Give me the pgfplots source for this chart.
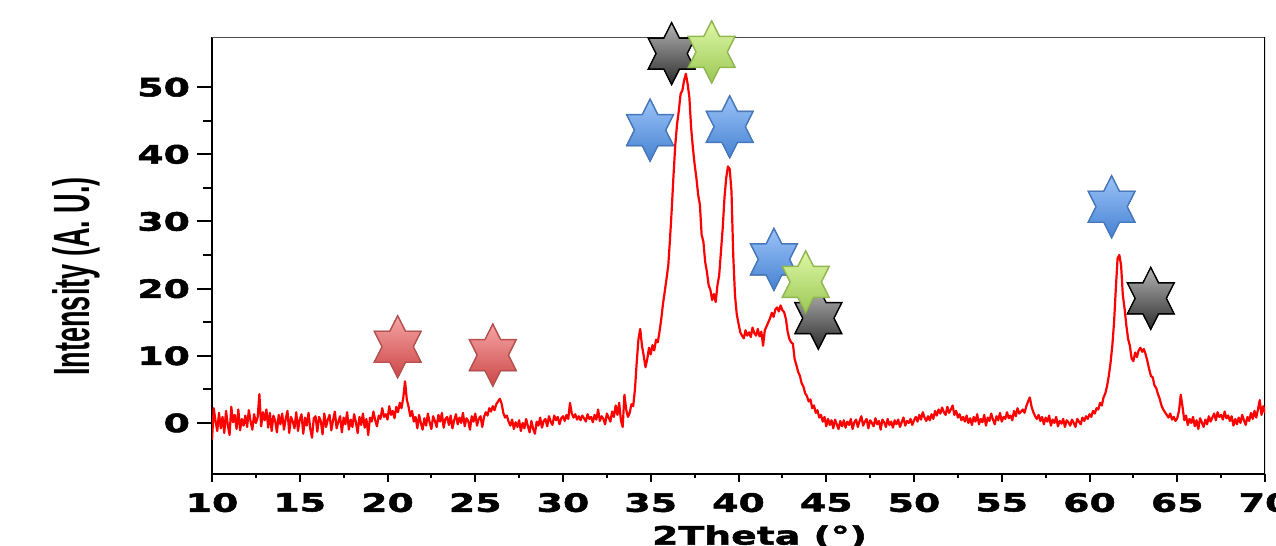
\documentclass[border=0pt]{standalone}
\usepackage{pgfplots}
\pgfplotsset{compat=1.18}
\usepackage{fontspec}
\setmainfont{Liberation Sans}
\newfontfamily\tickfont{DejaVu Sans Bold}[FakeStretch=1.5,FakeBold=2]
\newfontfamily\labfont{Liberation Sans Bold}[FakeStretch=0.53]
\definecolor{redtop}{RGB}{245,165,165}
\definecolor{redbot}{RGB}{205,70,70}
\definecolor{redline}{RGB}{185,80,80}
\definecolor{bluetop}{RGB}{155,195,248}
\definecolor{bluebot}{RGB}{70,130,210}
\definecolor{blueline}{RGB}{70,120,190}
\definecolor{greentop}{RGB}{222,247,165}
\definecolor{greenbot}{RGB}{155,200,85}
\definecolor{greenline}{RGB}{145,185,80}
\definecolor{blacktop}{RGB}{180,180,180}
\definecolor{blackbot}{RGB}{45,45,45}
\newcommand\hexstar[1]{\path[#1] (0pt,15.5pt) -- (3.9pt,7.75pt) -- (11.7pt,7.75pt) -- (7.8pt,0pt) -- (11.7pt,-7.75pt) -- (3.9pt,-7.75pt) -- (0pt,-15.5pt) -- (-3.9pt,-7.75pt) -- (-11.7pt,-7.75pt) -- (-7.8pt,0pt) -- (-11.7pt,7.75pt) -- (-3.9pt,7.75pt) -- cycle;}
\newcommand\hexmark[3]{\hexstar{fill=black,fill opacity=0.15,xshift=0.8pt,yshift=-1.5pt}\hexstar{top color=#1,bottom color=#2,draw=#3,line width=0.7pt,line join=miter}}
\pgfdeclareplotmark{hexred}{\hexmark{redtop}{redbot}{redline}}
\pgfdeclareplotmark{hexblue}{\hexmark{bluetop}{bluebot}{blueline}}
\pgfdeclareplotmark{hexgreen}{\hexmark{greentop}{greenbot}{greenline}}
\pgfdeclareplotmark{hexblack}{\hexmark{blacktop}{blackbot}{black}}
\begin{document}
\begin{tikzpicture}
\begin{axis}[
  name=ax, scale only axis, width=526.5pt, height=218.25pt,
  xmin=10, xmax=70, ymin=-7.6, ymax=57.4,
  axis x line=bottom, axis y line=left,
  axis line style={-, line width=1pt, black},
  xtick={10,15,...,70}, ytick={0,10,...,50},
  minor x tick num=1, minor y tick num=1,
  tick align=outside, tick style={black, line width=1pt},
  major tick length=7.5pt, minor tick length=4.5pt,
  xtick style={/pgfplots/major tick length=3.8pt, /pgfplots/minor tick length=2pt},
  /pgf/number format/assume math mode=true,
  ticklabel style={font=\tickfont\fontsize{12.6}{14}\selectfont},
  xticklabel style={yshift=1.5pt},
  xlabel={2Theta (°)}, ylabel={Intensity (A. U.)},
  xlabel style={font=\tickfont\fontsize{12.6}{14}\selectfont, at={(rel axis cs:0.52,0)}, anchor=north, inner sep=0pt, yshift=-25.5pt},
  ylabel style={font=\labfont\fontsize{25.5}{28}\selectfont, at={(rel axis cs:-0.129,0.4525)}, anchor=center},
]
\draw[gray!60!black, line width=0.5pt] (rel axis cs:0,1) -- (rel axis cs:1,1);
\draw[black, line width=1.3pt] (rel axis cs:1,0) -- (rel axis cs:1,1);
\addplot[red, line width=1.1pt, line join=round] coordinates {
(10.0,-2.5)(10.1,2.2)(10.2,0.3)(10.3,-1.2)(10.4,1.5)(10.5,-0.8)(10.6,0.9)(10.7,-1.5)(10.8,1.8)(10.9,-0.3)
(11.0,-1.8)(11.1,2.4)(11.2,0.1)(11.3,1.2)(11.4,-0.9)(11.5,2.0)(11.6,-1.1)(11.7,0.6)(11.8,-0.4)(11.9,1.1)
(12.0,-0.6)(12.1,1.9)(12.2,0.2)(12.3,-1.0)(12.4,1.3)(12.5,0.0)(12.6,0.8)(12.7,4.3)(12.8,-0.5)(12.9,1.6)
(13.0,0.4)(13.1,2.0)(13.2,-0.7)(13.3,1.5)(13.4,-1.2)(13.5,1.1)(13.6,0.3)(13.7,-1.4)(13.8,1.2)(13.9,-0.2)
(14.0,1.4)(14.1,-1.0)(14.2,0.6)(14.3,1.8)(14.4,-1.5)(14.5,0.9)(14.6,0.2)(14.7,-0.8)(14.8,1.6)(14.9,-1.2)
(15.0,0.5)(15.1,1.3)(15.2,-1.6)(15.3,0.8)(15.4,-0.4)(15.5,1.5)(15.6,-0.9)(15.7,-2.2)(15.8,0.7)(15.9,1.0)
(16.0,-1.3)(16.1,0.9)(16.2,0.3)(16.3,-1.7)(16.4,1.4)(16.5,-0.6)(16.6,0.5)(16.7,1.2)(16.8,-1.1)(16.9,0.4)
(17.0,1.7)(17.1,-0.8)(17.2,0.2)(17.3,1.0)(17.4,-1.4)(17.5,0.8)(17.6,-0.2)(17.7,1.6)(17.8,-1.0)(17.9,0.5)
(18.0,-0.6)(18.1,1.3)(18.2,0.1)(18.3,-1.5)(18.4,0.9)(18.5,-0.3)(18.6,1.4)(18.7,-0.7)(18.8,0.6)(18.9,-1.8)
(19.0,0.8)(19.1,0.2)(19.2,1.7)(19.3,0.4)(19.4,-0.5)(19.5,1.1)(19.6,0.6)(19.7,2.2)(19.8,0.9)(19.9,1.3)
(20.0,0.5)(20.1,2.5)(20.2,1.2)(20.3,1.8)(20.4,0.7)(20.5,2.4)(20.6,1.6)(20.7,3.0)(20.8,2.2)(20.9,3.8)
(21.0,6.2)(21.1,3.5)(21.2,2.4)(21.3,1.0)(21.4,1.8)(21.5,0.2)(21.6,0.9)(21.7,-0.8)(21.8,1.2)(21.9,0.0)
(22.0,-1.0)(22.1,0.7)(22.2,-0.4)(22.3,1.4)(22.4,0.1)(22.5,-0.9)(22.6,1.0)(22.7,0.3)(22.8,-0.6)(22.9,1.2)
(23.0,0.2)(23.1,1.5)(23.2,-0.7)(23.3,0.6)(23.4,0.9)(23.5,-0.3)(23.6,1.1)(23.7,-0.8)(23.8,0.4)(23.9,1.3)
(24.0,-0.2)(24.1,0.8)(24.2,0.0)(24.3,1.5)(24.4,-0.5)(24.5,0.7)(24.6,0.3)(24.7,-1.0)(24.8,1.0)(24.9,0.2)
(25.0,1.4)(25.1,-0.4)(25.2,0.6)(25.3,1.0)(25.4,-0.6)(25.5,0.9)(25.6,1.6)(25.7,1.1)(25.8,2.2)(25.9,1.7)
(26.0,2.5)(26.1,1.9)(26.2,2.8)(26.3,3.2)(26.4,3.6)(26.5,2.9)(26.6,1.5)(26.7,0.8)(26.8,1.1)(26.9,0.2)
(27.0,-0.4)(27.1,0.5)(27.2,-0.9)(27.3,0.1)(27.4,-0.6)(27.5,0.4)(27.6,-1.2)(27.7,0.0)(27.8,-0.8)(27.9,0.6)
(28.0,-0.5)(28.1,-1.4)(28.2,0.3)(28.3,-0.9)(28.4,-1.6)(28.5,0.2)(28.6,-0.4)(28.7,0.8)(28.8,-0.7)(28.9,0.3)
(29.0,0.6)(29.1,-0.5)(29.2,1.0)(29.3,0.2)(29.4,-0.3)(29.5,1.1)(29.6,0.4)(29.7,0.9)(29.8,-0.2)(29.9,0.7)
(30.0,1.0)(30.1,0.3)(30.2,1.2)(30.3,0.6)(30.4,3.0)(30.5,1.4)(30.6,0.8)(30.7,1.3)(30.8,0.5)(30.9,1.0)
(31.0,0.4)(31.1,1.1)(31.2,0.7)(31.3,0.2)(31.4,1.3)(31.5,0.6)(31.6,0.9)(31.7,0.1)(31.8,1.2)(31.9,0.5)
(32.0,2.0)(32.1,0.3)(32.2,1.0)(32.3,0.6)(32.4,-0.2)(32.5,1.4)(32.6,0.8)(32.7,0.2)(32.8,1.7)(32.9,0.9)
(33.0,2.6)(33.1,1.2)(33.2,3.0)(33.3,0.4)(33.4,-0.6)(33.5,4.2)(33.6,2.0)(33.7,0.9)(33.8,1.5)(33.9,2.8)
(34.0,2.5)(34.1,5.0)(34.2,9.0)(34.3,12.5)(34.4,14.0)(34.5,11.5)(34.6,10.0)(34.7,8.3)(34.8,9.5)(34.9,11.2)
(35.0,10.2)(35.1,11.6)(35.2,10.8)(35.3,12.4)(35.4,12.0)(35.5,13.6)(35.6,15.5)(35.7,17.8)(35.8,19.6)(35.9,21.5)
(36.0,23.5)(36.1,27.5)(36.2,32.0)(36.3,37.0)(36.4,41.5)(36.5,44.5)(36.6,46.5)(36.7,49.0)(36.8,49.5)(36.9,51.0)
(37.0,52.0)(37.1,50.5)(37.2,48.5)(37.3,44.0)(37.4,41.0)(37.5,38.5)(37.6,36.5)(37.7,34.0)(37.8,32.5)(37.9,28.0)
(38.0,27.0)(38.1,24.0)(38.2,22.5)(38.3,20.5)(38.4,19.8)(38.5,18.3)(38.6,19.2)(38.7,18.0)(38.8,20.5)(38.9,22.0)
(39.0,25.5)(39.1,29.0)(39.2,33.5)(39.3,36.5)(39.4,38.2)(39.5,37.8)(39.6,34.5)(39.7,25.0)(39.8,19.0)(39.9,16.2)
(40.0,14.8)(40.1,13.5)(40.2,13.0)(40.3,12.6)(40.4,13.8)(40.5,13.0)(40.6,13.5)(40.7,12.8)(40.8,14.2)(40.9,13.4)
(41.0,13.0)(41.1,14.0)(41.2,12.9)(41.3,13.6)(41.4,11.5)(41.5,13.8)(41.6,14.4)(41.7,15.0)(41.8,15.6)(41.9,16.4)
(42.0,15.8)(42.1,16.9)(42.2,17.2)(42.3,16.6)(42.4,17.5)(42.5,16.8)(42.6,16.5)(42.7,15.5)(42.8,13.6)(42.9,12.5)
(43.0,12.0)(43.1,11.8)(43.2,9.5)(43.3,8.6)(43.4,7.6)(43.5,7.0)(43.6,5.9)(43.7,5.4)(43.8,4.4)(43.9,4.0)
(44.0,3.2)(44.1,3.5)(44.2,2.2)(44.3,2.6)(44.4,1.5)(44.5,1.9)(44.6,0.8)(44.7,1.2)(44.8,0.2)(44.9,0.9)
(45.0,-0.5)(45.1,0.6)(45.2,-0.3)(45.3,0.4)(45.4,-0.8)(45.5,0.5)(45.6,-0.2)(45.7,-0.9)(45.8,0.3)(45.9,-0.5)
(46.0,0.4)(46.1,-0.7)(46.2,0.2)(46.3,-0.3)(46.4,0.6)(46.5,-0.9)(46.6,0.1)(46.7,0.5)(46.8,-0.6)(46.9,0.3)
(47.0,1.0)(47.1,-0.4)(47.2,0.2)(47.3,0.6)(47.4,-0.8)(47.5,0.4)(47.6,0.0)(47.7,-0.5)(47.8,0.7)(47.9,-0.2)
(48.0,0.3)(48.1,-1.0)(48.2,0.5)(48.3,0.1)(48.4,-0.6)(48.5,0.6)(48.6,-0.3)(48.7,0.2)(48.8,-0.7)(48.9,0.4)
(49.0,-0.2)(49.1,0.5)(49.2,-0.6)(49.3,0.1)(49.4,0.8)(49.5,-0.4)(49.6,0.3)(49.7,0.0)(49.8,0.6)(49.9,-0.3)
(50.0,0.4)(50.1,0.9)(50.2,0.2)(50.3,1.2)(50.4,0.5)(50.5,1.6)(50.6,0.8)(50.7,0.3)(50.8,1.0)(50.9,0.4)
(51.0,1.3)(51.1,0.6)(51.2,1.8)(51.3,1.1)(51.4,2.0)(51.5,1.4)(51.6,2.3)(51.7,1.6)(51.8,1.2)(51.9,2.4)
(52.0,1.5)(52.1,2.0)(52.2,2.6)(52.3,1.2)(52.4,1.8)(52.5,0.8)(52.6,1.3)(52.7,0.4)(52.8,0.9)(52.9,0.2)
(53.0,1.1)(53.1,0.0)(53.2,0.7)(53.3,-0.3)(53.4,0.9)(53.5,0.2)(53.6,1.3)(53.7,-0.2)(53.8,0.6)(53.9,0.1)
(54.0,1.2)(54.1,-0.4)(54.2,0.8)(54.3,0.3)(54.4,1.4)(54.5,0.5)(54.6,-0.2)(54.7,1.0)(54.8,0.4)(54.9,1.5)
(55.0,0.2)(55.1,0.9)(55.2,0.6)(55.3,1.6)(55.4,0.7)(55.5,1.1)(55.6,0.4)(55.7,1.8)(55.8,1.0)(55.9,2.2)
(56.0,1.4)(56.1,1.7)(56.2,2.0)(56.3,1.5)(56.4,2.5)(56.5,3.2)(56.6,3.8)(56.7,2.4)(56.8,1.6)(56.9,1.0)
(57.0,0.6)(57.1,1.2)(57.2,0.3)(57.3,0.9)(57.4,-0.2)(57.5,0.8)(57.6,0.2)(57.7,1.1)(57.8,-0.4)(57.9,0.5)
(58.0,0.0)(58.1,0.9)(58.2,-0.5)(58.3,0.3)(58.4,-0.1)(58.5,0.6)(58.6,-0.6)(58.7,0.4)(58.8,0.1)(58.9,-0.4)
(59.0,0.5)(59.1,0.0)(59.2,-0.6)(59.3,0.6)(59.4,0.2)(59.5,-0.2)(59.6,0.8)(59.7,0.3)(59.8,1.0)(59.9,0.6)
(60.0,1.3)(60.1,0.9)(60.2,1.8)(60.3,1.4)(60.4,2.2)(60.5,2.0)(60.6,3.0)(60.7,2.6)(60.8,3.8)(60.9,4.4)
(61.0,5.5)(61.1,7.0)(61.2,9.0)(61.3,11.5)(61.4,15.0)(61.5,20.0)(61.6,24.5)(61.7,25.0)(61.8,23.5)(61.9,19.0)
(62.0,17.0)(62.1,14.5)(62.2,12.5)(62.3,11.5)(62.4,9.6)(62.5,9.2)(62.6,10.5)(62.7,9.8)(62.8,10.8)(62.9,11.2)
(63.0,10.6)(63.1,11.0)(63.2,10.2)(63.3,9.2)(63.4,8.0)(63.5,7.0)(63.6,6.8)(63.7,5.6)(63.8,5.2)(63.9,4.3)
(64.0,3.6)(64.1,2.6)(64.2,2.0)(64.3,1.6)(64.4,1.2)(64.5,0.8)(64.6,1.4)(64.7,0.5)(64.8,0.9)(64.9,0.3)
(65.0,0.7)(65.1,1.8)(65.2,4.2)(65.3,2.4)(65.4,0.4)(65.5,1.1)(65.6,-0.3)(65.7,0.6)(65.8,0.0)(65.9,0.9)
(66.0,-0.5)(66.1,0.4)(66.2,-0.9)(66.3,0.7)(66.4,0.1)(66.5,-0.6)(66.6,0.5)(66.7,-0.2)(66.8,1.0)(66.9,0.2)
(67.0,0.8)(67.1,1.4)(67.2,0.4)(67.3,1.6)(67.4,0.9)(67.5,1.2)(67.6,0.5)(67.7,1.7)(67.8,0.7)(67.9,1.1)
(68.0,0.3)(68.1,1.0)(68.2,-0.4)(68.3,0.6)(68.4,-0.2)(68.5,0.8)(68.6,0.0)(68.7,1.2)(68.8,0.4)(68.9,-0.3)
(69.0,0.9)(69.1,0.3)(69.2,1.5)(69.3,0.6)(69.4,1.8)(69.5,0.8)(69.6,2.0)(69.7,3.4)(69.8,1.2)(69.9,2.5)
(70.0,1.5)
};
\addplot[only marks, mark=hexred] coordinates {(20.58,11.35)(26.0,10.1)};
\addplot[only marks, mark=hexblack] coordinates {(36.19,55.0)(44.55,15.6)(63.49,18.55)};
\addplot[only marks, mark=hexblue] coordinates {(34.96,43.6)(39.5,44.1)(42.02,24.36)(61.26,32.2)};
\addplot[only marks, mark=hexgreen] coordinates {(38.47,55.25)(43.83,21.0)};
\end{axis}
\pgfresetboundingbox
\path[use as bounding box] ([shift={(-106pt,-36pt)}]ax.south west) rectangle ([shift={(5.5pt,18.75pt)}]ax.north east);
\end{tikzpicture}
\end{document}
